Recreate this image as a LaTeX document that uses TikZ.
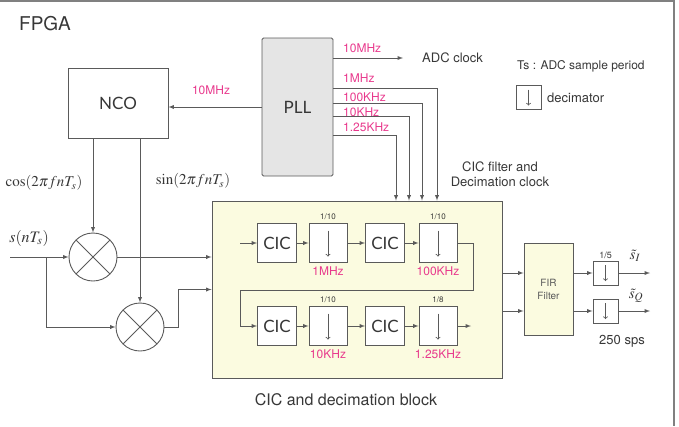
\documentclass[tikz,border=0pt]{standalone}
\usepackage{amsmath}
\usepackage{mathptmx}
\usepackage{fontspec}
\setmainfont{TeX Gyre Heros}
\newfontfamily\blkfont{Lato}
\usetikzlibrary{shapes,arrows}
\definecolor{ln}{RGB}{90,90,90}
\definecolor{txt}{RGB}{55,55,55}
\definecolor{freq}{RGB}{232,56,140}
\definecolor{blkyellow}{RGB}{251,251,224}
\definecolor{pllgray}{RGB}{229,229,229}

\begin{document}
\begin{tikzpicture}[x=1pt,y=-1pt,
  wire/.style={draw=ln,line width=0.9pt},
  box/.style={rectangle,draw=ln,line width=0.9pt,inner sep=0pt,text=txt,font=\blkfont\fontsize{17}{17}\selectfont},
  cic/.style={box,fill=white,minimum width=39pt,minimum height=39pt},
  dec/.style={box,fill=white,minimum width=38pt,minimum height=39pt,
    path picture={\draw[ln,line width=0.8pt,-to] ([yshift=-7pt]path picture bounding box.north) -- ([yshift=6pt]path picture bounding box.south);}},
  sdec/.style={box,fill=white,minimum width=25pt,minimum height=24pt,
    path picture={\draw[ln,line width=0.8pt,-to] ([yshift=-4pt]path picture bounding box.north) -- ([yshift=4pt]path picture bounding box.south);}},
  mult/.style={circle,draw=ln,line width=0.9pt,minimum size=48pt,inner sep=0pt,
    path picture={\draw[ln,line width=0.9pt] (path picture bounding box.north west) -- (path picture bounding box.south east)
      (path picture bounding box.north east) -- (path picture bounding box.south west);}},
  lbl/.style={text=txt,font=\fontsize{13}{15}\selectfont,inner sep=1pt},
  mth/.style={text=txt,font=\fontsize{15}{15}\selectfont,inner sep=0pt},
  freq/.style={text=freq,font=\fontsize{12}{12}\selectfont,inner sep=1pt},
  frac/.style={text=txt,font=\fontsize{8}{8}\selectfont,inner sep=1pt}]
\useasboundingbox (0,0) rectangle (679,426);
\draw[gray,line width=1.5pt] (0,1) -- (674,1) -- (674,426);

\node[lbl,anchor=west,font=\fontsize{19}{19}\selectfont] (fpga) at (18,24) {FPGA};

% NCO and PLL
\node[box,minimum width=100pt,minimum height=70pt] (nco) at (118,103) {NCO};
\node[box,fill=pllgray,rounded corners=1.5pt,minimum width=71pt,minimum height=138pt] (pll) at (297.5,107) {PLL};
\draw[wire,-latex] (pll.west) -- (nco.east |- pll.west);
\node[freq] (f0) at (211,90) {10MHz};

% PLL clock outputs
\coordinate (adcend) at (403,58);
\node[lbl,anchor=west] (adc) at (421,58) {ADC clock};
\draw[wire,-latex] ([yshift=49pt]pll.east) -- (adcend);
\node[freq,anchor=west] (f1) at (342,48) {10MHz};
\node[freq,anchor=west] (f2) at (342,78) {1MHz};
\node[freq,anchor=west] (f3) at (342,97) {100KHz};
\node[freq,anchor=west] (f4) at (342,112) {10KHz};
\node[freq,anchor=west] (f5) at (342,127) {1.25KHz};

\node[box,fill=blkyellow,minimum width=290pt,minimum height=177pt] (blk) at (357,289.5) {};
\draw[wire,-latex] ([yshift=19pt]pll.east) -| ([xshift=80pt]blk.north);
\draw[wire,-latex] ([yshift=4pt]pll.east) -| ([xshift=65pt]blk.north);
\draw[wire,-latex] ([yshift=-9pt]pll.east) -| ([xshift=52pt]blk.north);
\draw[wire,-latex] ([yshift=-28pt]pll.east) -| ([xshift=39pt]blk.north);

\node[lbl,anchor=west,font=\fontsize{12}{14}\selectfont] (ts) at (516,66) {Ts : ADC sample period};
\node[sdec] (legdec) at (528.5,97.5) {};
\node[lbl,anchor=west] (legtxt) at (546,97.5) {decimator};
\node[lbl,align=center] (clk) at (500,174) {CIC filter and\\Decimation clock};

% mixers
\node[mult] (m1) at (93,257) {};
\node[mult] (m2) at (140,327) {};
\node[mth] (cos) at (44,183) {$\cos(2\pi f nT_s)$};
\node[mth] (sin) at (193,181) {$\sin(2\pi f nT_s)$};
\node[mth,font=\fontsize{16}{16}\selectfont] (sig) at (29,238) {$s(nT_s)$};
\coordinate (insig) at (10,257);
\coordinate (br) at (46,257);
\draw[wire,-latex] (nco.south -| m1) -- (m1.north);
\draw[wire,-latex] (nco.south -| m2) -- (m2.north);
\draw[wire,-latex] (insig) -- (m1.west);
\draw[wire,-latex] (br) |- (m2.west);
\draw[wire,-latex] (m1.east) -- (m1 -| blk.west);
\draw[wire,-latex] (m2.east) -- ++(14,0) |- (blk.west);

% CIC and decimation chain
\node[cic] (cic1) at (277,243) {CIC};
\node[dec,label={[frac,label distance=2pt]above:1/10},label={[freq,label distance=3pt]below:1MHz}] (d1) at (328,243) {};
\node[cic] (cic2) at (385,243) {CIC};
\node[dec,label={[frac,label distance=2pt]above:1/10},label={[freq,label distance=3pt]below:100KHz}] (d2) at (438,243) {};
\node[cic] (cic3) at (277,326) {CIC};
\node[dec,label={[frac,label distance=2pt]above:1/10},label={[freq,label distance=3pt]below:10KHz}] (d3) at (328,326) {};
\node[cic] (cic4) at (385,326) {CIC};
\node[dec,label={[frac,label distance=2pt]above:1/8},label={[freq,label distance=3pt]below:1.25KHz}] (d4) at (438,326) {};
\coordinate (in1) at (240,243);
\coordinate (turn) at (240,290);
\coordinate (out4) at (471,326);
\draw[wire,-latex] (in1) -- (cic1);
\draw[wire,-latex] (cic1) -- (d1);
\draw[wire,-latex] (d1) -- (cic2);
\draw[wire,-latex] (cic2) -- (d2);
\draw[wire,-latex] (d2.east) -- ++(16,0) |- (turn) |- (cic3.west);
\draw[wire,-latex] (cic3) -- (d3);
\draw[wire,-latex] (d3) -- (cic4);
\draw[wire,-latex] (cic4) -- (d4);
\draw[wire,-latex] (d4) -- (out4);
\node[lbl,font=\fontsize{16}{16}\selectfont] (blkname) at (346,400) {CIC and decimation block};

% FIR and outputs
\node[box,fill=blkyellow,minimum width=49pt,minimum height=92pt,align=center,font=\fontsize{10}{13}\selectfont,text=ln] (fir) at (548.5,289) {FIR\\Filter};
\node[sdec,label={[frac,font=\fontsize{9}{9}\selectfont,label distance=1pt]above:1/5}] (di) at (605.5,273) {};
\node[sdec] (dq) at (605.5,311) {};
\coordinate (outi) at (650,273);
\coordinate (outq) at (650,311);
\draw[wire,-latex] (blk.east |- di) -- (fir.west |- di);
\draw[wire,-latex] (blk.east |- dq) -- (fir.west |- dq);
\draw[wire,-latex] (fir.east |- di) -- (di);
\draw[wire,-latex] (fir.east |- dq) -- (dq);
\draw[wire,-latex] (di) -- (outi);
\draw[wire,-latex] (dq) -- (outq);
\node[mth] (si) at (635,256) {$\tilde{s}_I$};
\node[mth] (sq) at (636,296) {$\tilde{s}_Q$};
\node[lbl] (rate) at (622,341) {250 sps};
\end{tikzpicture}
\end{document}
